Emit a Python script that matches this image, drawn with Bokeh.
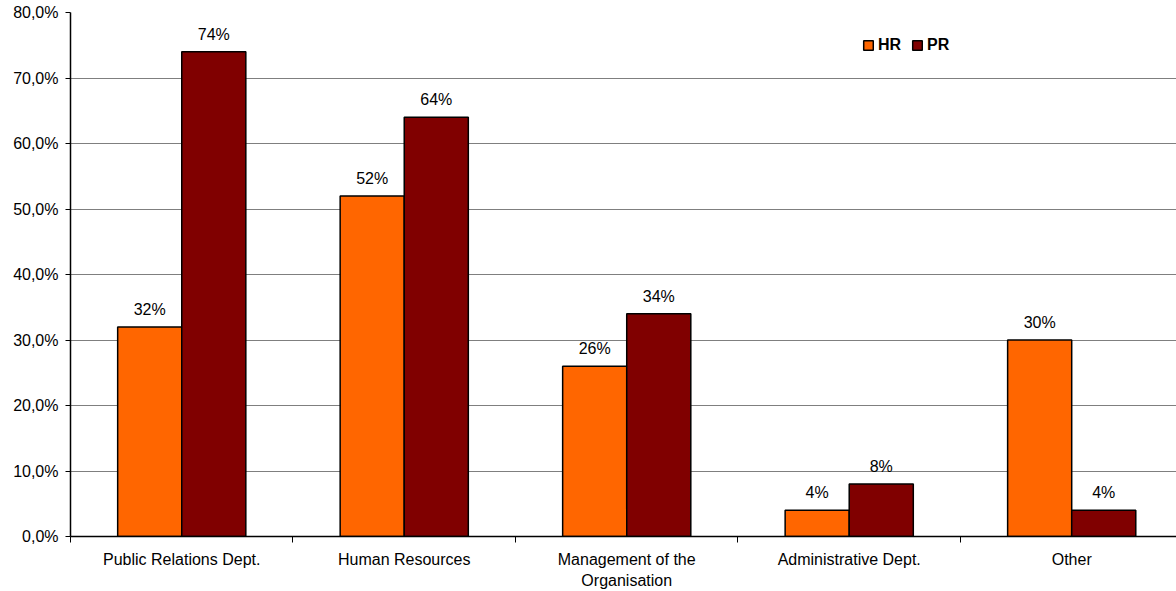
from bokeh.plotting import figure
from bokeh.models import (ColumnDataSource, FixedTicker, Range1d, Legend, LegendItem)
from bokeh.core.properties import value
from bokeh.embed import file_html
from bokeh.resources import INLINE

# Data
categories = ["Public Relations Dept.", "Human Resources",
              "Management of the\nOrganisation", "Administrative Dept.", "Other"]
hr_values = [32, 52, 26, 4, 30]
pr_values = [74, 64, 34, 8, 4]
y_ticks = [0.0, 0.1, 0.2, 0.3, 0.4, 0.5, 0.6, 0.7, 0.8]
y_tick_labels = ["0,0%", "10,0%", "20,0%", "30,0%", "40,0%",
                 "50,0%", "60,0%", "70,0%", "80,0%"]

HR_COLOR = "#FF6600"
PR_COLOR = "#800000"
FONT = "Liberation Sans"
FONT_SIZE = "16px"
BAR_W = 0.288
X_END = 4.971  # the last category slot runs slightly past the right edge

n = len(categories)
centers = [i + 0.5 for i in range(n)]

hr_src = ColumnDataSource(dict(
    x=[c - BAR_W / 2 for c in centers],
    top=[v / 100 for v in hr_values],
    label=[f"{v}%" for v in hr_values],
))
pr_src = ColumnDataSource(dict(
    x=[c + BAR_W / 2 for c in centers],
    top=[v / 100 for v in pr_values],
    label=[f"{v}%" for v in pr_values],
))

p = figure(width=1176, height=591, output_backend="svg", toolbar_location=None,
           x_range=Range1d(0, X_END), y_range=Range1d(0, 0.8),
           min_border_left=70, min_border_right=0,
           min_border_top=12, min_border_bottom=54)
p.outline_line_color = None
p.background_fill_color = "white"
p.border_fill_color = "white"

r_hr = p.vbar(x="x", top="top", width=BAR_W, bottom=0, source=hr_src,
              fill_color=HR_COLOR, line_color="black", line_width=1.5)
r_pr = p.vbar(x="x", top="top", width=BAR_W, bottom=0, source=pr_src,
              fill_color=PR_COLOR, line_color="black", line_width=1.5)

for src in (hr_src, pr_src):
    p.text(x="x", y="top", text="label", source=src, text_align="center",
           text_baseline="bottom", y_offset=-9, text_font=value(FONT),
           text_font_size=FONT_SIZE, text_color="black")

# x axis: category names at centers, tick marks at category boundaries
p.xaxis.ticker = FixedTicker(ticks=centers, minor_ticks=list(range(n + 1)))
p.xaxis.major_label_overrides = {c: lab for c, lab in zip(centers, categories)}
p.xaxis.major_tick_out = 0
p.xaxis.major_tick_in = 0
p.xaxis.minor_tick_out = 6
p.xaxis.minor_tick_in = 0
p.xaxis.minor_tick_line_color = "black"
p.xaxis.axis_line_color = "black"
p.xaxis.axis_line_width = 1.5
p.xaxis.major_label_text_font = FONT
p.xaxis.major_label_text_font_size = FONT_SIZE
p.xaxis.major_label_text_line_height = 1.25
p.xaxis.major_label_text_color = "black"
p.xaxis.major_label_standoff = 8
p.xgrid.grid_line_color = None

# y axis
p.yaxis.ticker = FixedTicker(ticks=y_ticks, minor_ticks=[])
p.yaxis.major_label_overrides = {t: lab for t, lab in zip(y_ticks, y_tick_labels)}
p.yaxis.major_tick_out = 5
p.yaxis.major_tick_in = 0
p.yaxis.major_tick_line_color = "black"
p.yaxis.axis_line_color = "black"
p.yaxis.axis_line_width = 1.5
p.yaxis.major_label_text_font = FONT
p.yaxis.major_label_text_font_size = FONT_SIZE
p.yaxis.major_label_text_color = "black"
p.yaxis.major_label_standoff = 7
p.ygrid.ticker = FixedTicker(ticks=y_ticks, minor_ticks=[])
p.ygrid.grid_line_color = "#7f7f7f"
p.ygrid.grid_line_width = 1

legend = Legend(items=[LegendItem(label="HR", renderers=[r_hr]),
                       LegendItem(label="PR", renderers=[r_pr])],
                location=(792, 482), orientation="horizontal",
                label_text_font=FONT, label_text_font_size=FONT_SIZE,
                label_text_font_style="bold", label_text_color="black",
                label_standoff=4,
                glyph_width=12, glyph_height=12, spacing=10, padding=0,
                border_line_color=None, background_fill_alpha=0)
p.add_layout(legend)

open("out.html", "w").write(file_html(p, INLINE))
